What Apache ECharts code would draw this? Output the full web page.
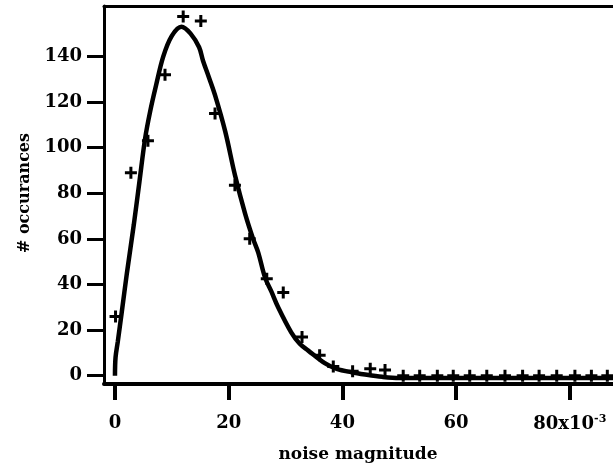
<!DOCTYPE html>
<html>
<head>
<meta charset="utf-8">
<script src="https://cdn.jsdelivr.net/npm/echarts@6/dist/echarts.min.js"></script>
<style>
  html, body { margin: 0; padding: 0; background: #fff; }
  #main { width: 613px; height: 471px; }
</style>
</head>
<body>
<div id="main"></div>
<script>
  // measured histogram (+ markers)
  var noiseX = [0.1, 2.8, 5.8, 8.8, 12.0, 15.1, 17.6, 21.1, 23.7, 26.7, 29.6, 32.9, 36.0, 38.4, 41.8,
    44.9, 47.5, 50.7, 53.6, 56.7, 59.5, 62.4, 65.4, 68.6, 71.7, 74.6, 77.7, 80.9, 83.8, 86.6]
  var counts = [26, 89, 103, 132, 157.5, 155.5, 115, 83.5, 60, 42.5, 36.5, 17, 9, 4, 2,
    3, 2.5, 0, 0, 0, 0, 0, 0, 0, 0, 0, 0, 0, 0, 0]

  // fitted curve
  var fitX = [0, 0.1, 0.5, 1.2, 2.1, 3.3, 4.3, 5.3, 6.2, 7.2, 8.5, 10.0, 11.7, 13.3, 14.8, 15.5,
    16.5, 17.6, 19.4, 21.1, 22.9, 24.3, 25.2, 26.4, 27.5, 28.7, 31.0, 32.5, 34.0, 36.9, 39.0,
    41.6, 44.0, 47.0, 50.0, 60.0, 70.0, 80.0, 90.0]
  var fitY = [0, 8, 15, 28, 45, 66, 85, 104, 116, 127, 140, 149, 153, 150, 144, 138,
    131, 123, 107, 88, 71, 60, 54, 43, 37, 30, 19, 14, 11, 5.5, 3,
    1.5, 0.5, -0.5, -1, -1, -1, -1, -1]

  var xTicks = [0, 20, 40, 60, 80]
  var yTicks = [0, 20, 40, 60, 80, 100, 120, 140]

  var font = 'DejaVu Serif'
  var plus = 'path://M0,4.5H12V7.5H0Z M4.5,0H7.5V12H4.5Z'

  var chart = echarts.init(document.getElementById('main'))
  chart.setOption({
    animation: false,
    backgroundColor: '#fff',
    grid: { left: 104, top: 6, right: 0, bottom: 87 },
    xAxis: [
      {
        type: 'value', min: -1.93, max: 87.6,
        splitLine: { show: false },
        axisLine: { show: true, onZero: false, lineStyle: { color: '#000', width: 4 } },
        axisTick: { show: true, customValues: xTicks, length: 16, lineStyle: { color: '#000', width: 4 } },
        axisLabel: {
          customValues: xTicks, margin: 30, color: '#000',
          fontFamily: font, fontWeight: 'bold', fontSize: 18,
          formatter: function (v) { return v === 80 ? '80x10{sup|-3}' : String(v) },
          rich: { sup: { fontFamily: font, fontWeight: 'bold', fontSize: 11, verticalAlign: 'top', padding: [0, 0, 10, 0] } }
        }
      },
      {
        // top frame line
        type: 'value', position: 'top', min: -1.93, max: 87.6,
        splitLine: { show: false },
        axisLine: { show: true, onZero: false, lineStyle: { color: '#000', width: 3 } },
        axisTick: { show: false },
        axisLabel: { show: false }
      }
    ],
    yAxis: {
      type: 'value', min: -3.64, max: 162.1,
      splitLine: { show: false },
      axisLine: { show: true, onZero: false, lineStyle: { color: '#000', width: 3 } },
      axisTick: { show: true, customValues: yTicks, length: 17, lineStyle: { color: '#000', width: 3 } },
      axisLabel: {
        customValues: yTicks, margin: 22, color: '#000',
        fontFamily: font, fontWeight: 'bold', fontSize: 18
      }
    },
    graphic: [
      {
        type: 'text', x: 358, y: 455,
        style: { text: 'noise magnitude', fontFamily: font, fontWeight: 'bold', fontSize: 17,
          fill: '#000', align: 'center', verticalAlign: 'middle' }
      },
      {
        type: 'text', x: 25, y: 193, rotation: Math.PI / 2,
        style: { text: '# occurances', fontFamily: font, fontWeight: 'bold', fontSize: 16,
          fill: '#000', align: 'center', verticalAlign: 'middle' }
      }
    ],
    series: [
      {
        type: 'line',
        data: fitX.map(function (x, i) { return [x, fitY[i]] }),
        showSymbol: false,
        smooth: 0.35,
        lineStyle: { color: '#000', width: 4.5 }
      },
      {
        type: 'scatter',
        data: noiseX.map(function (x, i) { return [x, counts[i]] }),
        symbol: plus,
        symbolSize: 12,
        itemStyle: { color: '#000', opacity: 1 }
      }
    ]
  })
</script>
</body>
</html>
